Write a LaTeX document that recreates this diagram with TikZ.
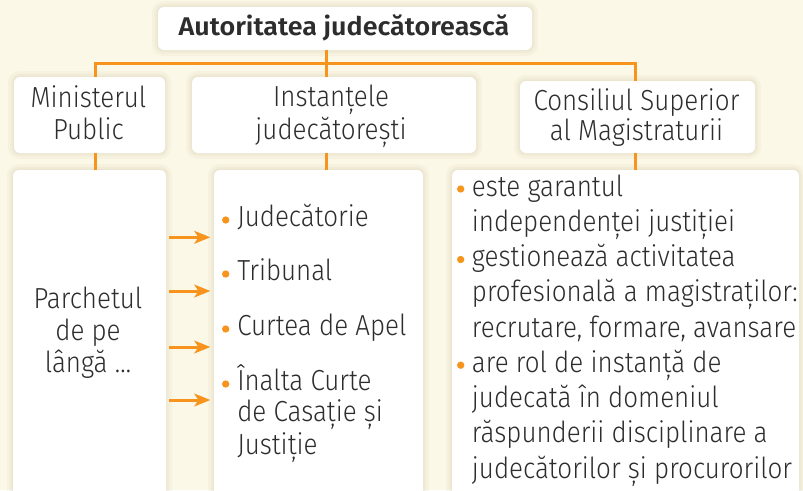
\documentclass[tikz,border=0pt]{standalone}
\usepackage{fontspec}
\setmainfont{Fira Sans Light}[FakeStretch=0.895]
\newfontfamily\titlefont{Fira Sans SemiBold}[FakeStretch=1.05]
\usetikzlibrary{arrows.meta,fit}
\definecolor{bgc}{RGB}{252,248,231}
\definecolor{orangec}{RGB}{247,148,30}
\definecolor{textc}{RGB}{45,45,45}
\definecolor{shadowc}{RGB}{200,192,160}
\newcommand\bodyfont{\fontsize{21.75pt}{24pt}\selectfont}
\newcommand\headfont{\titlefont\fontsize{19.2pt}{22pt}\selectfont}
\tikzset{
  box/.style={rectangle, rounded corners=4.5pt, fill=white, inner sep=0pt,
    preaction={draw=shadowc, line width=9pt, opacity=0.1},
    preaction={draw=shadowc, line width=5pt, opacity=0.1},
    preaction={draw=shadowc, line width=2pt, opacity=0.12}},
  conn/.style={draw=orangec, line width=2.25pt},
  arr/.style={conn, -{Stealth[length=12pt,width=9.5pt,inset=3pt]}, shorten <=2.25pt, shorten >=2.5pt},
  txt/.style={text=textc, inner sep=0pt, font=\bodyfont, anchor=base},
  ln/.style={txt, anchor=base west},
  dot/.style={circle, fill=orangec, inner sep=0pt, minimum size=5.5pt},
}
\begin{document}
\begin{tikzpicture}[x=0.75pt,y=-0.75pt]
\fill[bgc] (0,0) rectangle (803,490);
\useasboundingbox (0,0) rectangle (803,490);
\clip (0,0) rectangle (803,490);

% boxes
\node[box, fit={(158,7) (532,50)}] (top) {};
\node[box, fit={(14,77) (165,153)}] (mp) {};
\node[box, fit={(192,77) (476,153)}] (ij) {};
\node[box, fit={(520,81) (755,153)}] (csm) {};
\node[box, fit={(13,170) (166,520)}] (par) {};
\node[box, fit={(214,170) (423,520)}] (ins) {};
\node[box, fit={(452,170) (799,520)}] (csl) {};

% connector columns
\coordinate (cL) at (95.5,63.5);
\coordinate (cM) at (326,63.5);
\coordinate (cR) at (635.7,63.5);
\draw[conn] (cL |- mp.north) -- (cL) -- (cR) -- (cR |- csm.north);
\draw[conn] (cM |- top.south) -- (cM |- ij.north);
\draw[conn] (cL |- mp.south) -- (cL |- par.north);
\draw[conn] (cM |- ij.south) -- (cM |- ins.north);
\draw[conn] (cR |- csm.south) -- (cR |- csl.north);

% arrows
\foreach \n/\y in {1/237.3,2/291,3/347,4/400}{
  \coordinate (ay\n) at (0,\y);
  \draw[arr] (par.east |- ay\n) -- (ins.west |- ay\n);
}

% title
\node[txt, font=\headfont] (t) at (344,35.7) {Autoritatea judecătorească};

% level-2 texts
\node[txt] (mp1) at (88.5,107.3) {Ministerul};
\node[txt] (mp2) at (88.5,139.3) {Public};
\node[txt] (ij1) at (331,106.5) {Instanțele};
\node[txt] (ij2) at (331,139.3) {judecătorești};
\node[txt] (cs1) at (636.5,110) {Consiliul Superior};
\node[txt] (cs2) at (636.5,140) {al Magistraturii};

% Parchetul
\node[txt] (p1) at (88,308) {Parchetul};
\node[txt] (p2) at (88,340) {de pe};
\node[txt] (p3) at (88,372) {lângă …};

% instante list
\node[dot] (d1) at (225.7,220) {};
\node[dot] (d2) at (225.7,274) {};
\node[dot] (d3) at (225.7,329) {};
\node[dot] (d4) at (225.7,384) {};
\node[ln] (i1) at (237,226.7) {Judecătorie};
\node[ln] (i2) at (237,280.5) {Tribunal};
\node[ln] (i3) at (237,335) {Curtea de Apel};
\node[ln] (i4) at (237,390) {Înalta Curte};
\node[ln] (i5) at (237,421.7) {de Casație și};
\node[ln] (i6) at (237,454) {Justiție};

% CSM list
\node[dot] (e1) at (460.7,189) {};
\node[dot] (e2) at (460.7,259.5) {};
\node[dot] (e3) at (460.7,365.2) {};
\node[ln] (c1) at (471.7,196) {este garantul};
\node[ln] (c2) at (471.7,231.25) {independenței justiției};
\node[ln] (c3) at (471.7,266.5) {gestionează activitatea};
\node[ln] (c4) at (471.7,301.75) {profesională a magistraților:};
\node[ln] (c5) at (471.7,337) {recrutare, formare, avansare};
\node[ln] (c6) at (471.7,372.25) {are rol de instanță de};
\node[ln] (c7) at (471.7,407.5) {judecată în domeniul};
\node[ln] (c8) at (471.7,442.75) {răspunderii disciplinare a};
\node[ln] (c9) at (471.7,478) {judecătorilor și procurorilor};
\end{tikzpicture}
\end{document}
